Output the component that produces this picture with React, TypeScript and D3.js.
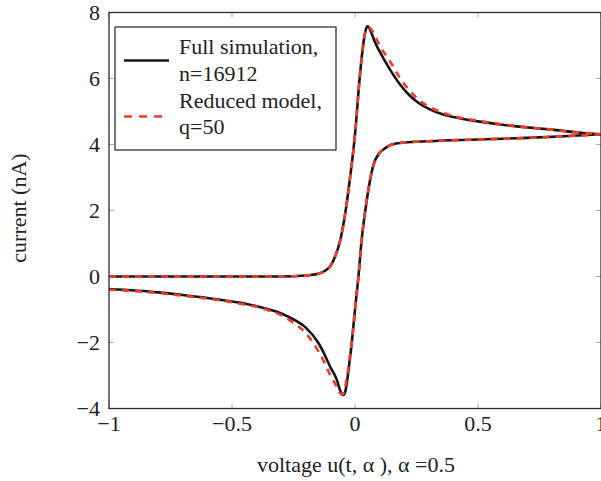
import React from "react";
import * as d3 from "d3";

// ---- data ----
const xTicks = [-1, -0.5, 0, 0.5, 1];
const xTickLabels = ["−1", "−0.5", "0", "0.5", "1"];
const yTicks = [-4, -2, 0, 2, 4, 6, 8];
const yTickLabels = ["−4", "−2", "0", "2", "4", "6", "8"];

// Full simulation, forward branch (peak)
const fullFwdV = [-1, -0.5, -0.3, -0.2, -0.15, -0.12, -0.1, -0.08, -0.06, -0.04, -0.02, 0, 0.02, 0.033, 0.043, 0.051, 0.06, 0.07, 0.08, 0.1, 0.14, 0.18, 0.22, 0.26, 0.3, 0.35, 0.4, 0.5, 0.6, 0.7, 0.8, 0.9, 1.0];
const fullFwdI = [0, 0, 0, 0.03, 0.08, 0.18, 0.32, 0.62, 1.1, 1.9, 3.0, 4.3, 6.1, 7.0, 7.45, 7.58, 7.5, 7.32, 7.12, 6.82, 6.3, 5.85, 5.5, 5.25, 5.08, 4.93, 4.83, 4.7, 4.6, 4.52, 4.45, 4.37, 4.31];
// Full simulation, reverse branch (dip)
const fullRevV = [-1, -0.8, -0.7, -0.6, -0.5, -0.45, -0.4, -0.35, -0.3, -0.25, -0.2, -0.15, -0.128, -0.1, -0.074, -0.062, -0.054, -0.047, -0.04, -0.033, -0.025, -0.013, 0, 0.014, 0.027, 0.048, 0.073, 0.1, 0.114, 0.15, 0.2, 0.3, 0.5, 0.7, 0.85, 1.0];
const fullRevI = [-0.38, -0.48, -0.56, -0.65, -0.76, -0.82, -0.9, -1.0, -1.12, -1.3, -1.55, -2.0, -2.3, -2.75, -3.13, -3.42, -3.55, -3.59, -3.5, -3.22, -2.75, -2.0, -1.0, 0, 1.1, 2.32, 3.33, 3.75, 3.84, 4.0, 4.06, 4.1, 4.15, 4.2, 4.25, 4.31];

// Reduced model, forward branch
const redFwdV = [-1, -0.5, -0.3, -0.2, -0.15, -0.12, -0.1, -0.08, -0.06, -0.04, -0.02, 0, 0.02, 0.033, 0.043, 0.052, 0.062, 0.072, 0.082, 0.1, 0.14, 0.18, 0.22, 0.26, 0.3, 0.35, 0.4, 0.5, 0.6, 0.7, 0.8, 0.9, 1.0];
const redFwdI = [0, 0, 0, 0.03, 0.08, 0.18, 0.32, 0.62, 1.1, 1.9, 3.0, 4.3, 6.1, 7.0, 7.42, 7.55, 7.52, 7.42, 7.28, 7.0, 6.55, 6.05, 5.65, 5.35, 5.15, 4.98, 4.86, 4.72, 4.61, 4.52, 4.45, 4.37, 4.31];
// Reduced model, reverse branch
const redRevV = [-1, -0.8, -0.7, -0.6, -0.5, -0.45, -0.4, -0.35, -0.3, -0.25, -0.2, -0.15, -0.128, -0.1, -0.074, -0.064, -0.056, -0.049, -0.042, -0.034, -0.025, -0.013, 0, 0.014, 0.027, 0.048, 0.073, 0.1, 0.114, 0.15, 0.2, 0.3, 0.5, 0.7, 0.85, 1.0];
const redRevI = [-0.4, -0.5, -0.58, -0.67, -0.78, -0.85, -0.92, -1.03, -1.17, -1.4, -1.72, -2.25, -2.55, -3.0, -3.35, -3.5, -3.57, -3.56, -3.42, -3.1, -2.65, -2.0, -1.0, 0, 1.1, 2.32, 3.33, 3.75, 3.84, 4.0, 4.06, 4.1, 4.15, 4.2, 4.25, 4.31];

const legendLabels = [["Full simulation,", "n=16912"], ["Reduced model,", "q=50"]];
const xLabel = "voltage u(t, α ), α =0.5";
const yLabel = "current (nA)";

// ---- layout ----
const W = 601;
const H = 481;
const L = 109, R = 601, T = 12.5, B = 408.5;
const FONT = "'Liberation Serif', 'Times New Roman', serif";
const BLACK = "#161616";
const RED = "#f23b27";
const FS = 22;

export default function App() {
  const x = d3.scaleLinear().domain([-1, 1]).range([L, R]);
  const y = d3.scaleLinear().domain([-4, 8]).range([B, T]);
  const line = d3
    .line<[number, number]>()
    .x((d) => x(d[0]))
    .y((d) => y(d[1]))
    .curve(d3.curveMonotoneX);
  const zip = (a: number[], b: number[]) => a.map((v, i) => [v, b[i]] as [number, number]);

  const blackPaths = [line(zip(fullFwdV, fullFwdI)), line(zip(fullRevV, fullRevI))];
  const redPaths = [line(zip(redFwdV, redFwdI)), line(zip(redRevV, redRevI))];

  return (
    <svg
      width={W}
      height={H}
      style={{ position: "absolute", left: 0, top: 0, background: "#fff" }}
      fontFamily={FONT}
    >
      <defs>
        <clipPath id="plotClip">
          <rect x={L} y={T} width={R - L} height={B - T} />
        </clipPath>
      </defs>
      <rect x={0} y={0} width={W} height={H} fill="#fff" />

      {/* ticks */}
      {xTicks.map((t, i) => (
        <g key={"xt" + i}>
          <line x1={x(t)} x2={x(t)} y1={B} y2={B - 5} stroke="#a8a8a8" strokeWidth={1} />
          <line x1={x(t)} x2={x(t)} y1={T} y2={T + 5} stroke="#a8a8a8" strokeWidth={1} />
        </g>
      ))}
      {yTicks.map((t, i) => (
        <g key={"yt" + i}>
          <line x1={L} x2={L + 5} y1={y(t)} y2={y(t)} stroke="#a8a8a8" strokeWidth={1} />
          <line x1={R} x2={R - 5} y1={y(t)} y2={y(t)} stroke="#a8a8a8" strokeWidth={1} />
        </g>
      ))}

      {/* curves */}
      <g clipPath="url(#plotClip)" fill="none">
        {blackPaths.map((p, i) => (
          <path key={"b" + i} d={p || ""} stroke={BLACK} strokeWidth={2.6} strokeLinejoin="round" />
        ))}
        {redPaths.map((p, i) => (
          <path key={"r" + i} d={p || ""} stroke={RED} strokeWidth={2.6} strokeDasharray="7 6" strokeLinejoin="round" />
        ))}
      </g>

      {/* frame */}
      <rect x={L} y={T} width={R - L} height={B - T} fill="none" stroke="#2a2a2a" strokeWidth={1.3} />

      {/* tick labels */}
      {xTicks.map((t, i) => (
        <text key={"xl" + i} x={x(t)} y={431} textAnchor="middle" fontSize={FS} fill="#222">
          {xTickLabels[i]}
        </text>
      ))}
      {yTicks.map((t, i) => (
        <text key={"yl" + i} x={100} y={y(t) + 7} textAnchor="end" fontSize={FS} fill="#222">
          {yTickLabels[i]}
        </text>
      ))}

      {/* axis labels */}
      <text x={356} y={472} textAnchor="middle" fontSize={FS} fill="#222">
        {xLabel}
      </text>
      <text transform="translate(26,208) rotate(-90)" textAnchor="middle" fontSize={FS} fill="#222">
        {yLabel}
      </text>

      {/* legend */}
      <rect x={115} y={27} width={221} height={123} fill="#fff" stroke="#222" strokeWidth={1.2} />
      <line x1={124} x2={169} y1={60.5} y2={60.5} stroke={BLACK} strokeWidth={2.6} />
      <line x1={124} x2={169} y1={116.5} y2={116.5} stroke={RED} strokeWidth={2.6} strokeDasharray="8 7" />
      <text x={179} y={54} fontSize={FS} fill="#222">{legendLabels[0][0]}</text>
      <text x={179} y={81} fontSize={FS} fill="#222">{legendLabels[0][1]}</text>
      <text x={179} y={108} fontSize={FS} fill="#222">{legendLabels[1][0]}</text>
      <text x={179} y={134} fontSize={FS} fill="#222">{legendLabels[1][1]}</text>
    </svg>
  );
}
